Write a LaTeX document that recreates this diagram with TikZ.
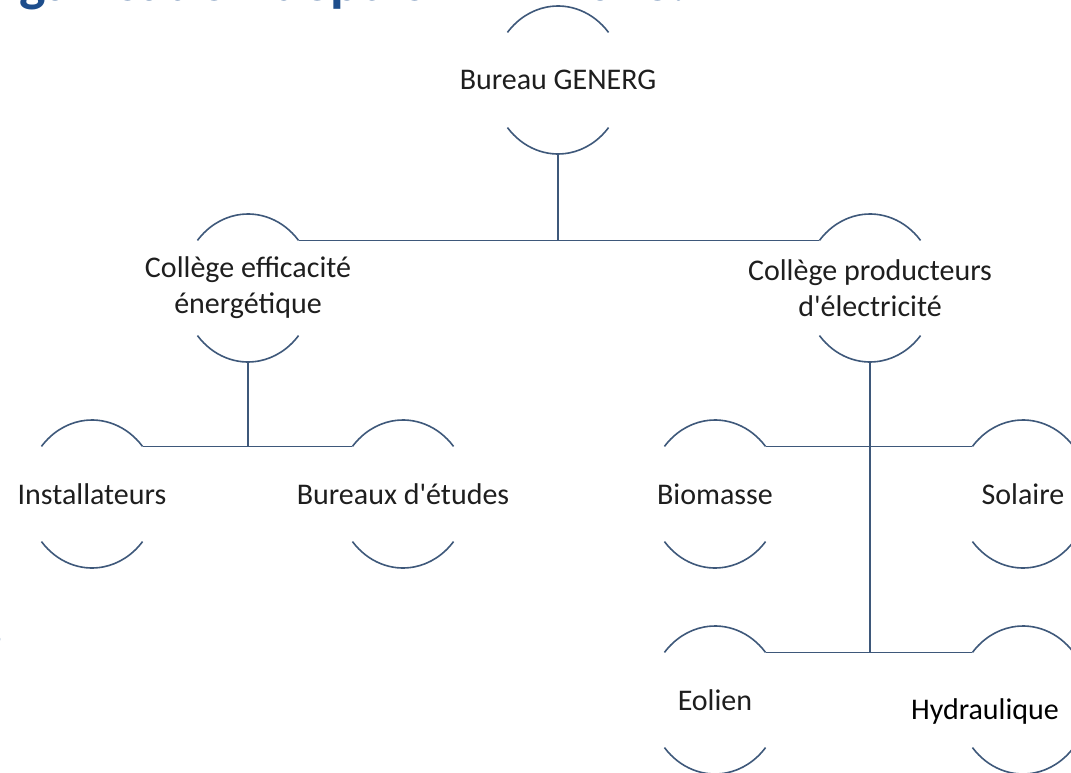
\documentclass[tikz,border=0pt]{standalone}
\usepackage{fontspec}
\newfontfamily\orgfont{Carlito}
\usetikzlibrary{calc}
\definecolor{orgLine}{RGB}{62,88,122}
\definecolor{orgText}{RGB}{30,30,30}
\definecolor{orgTitle}{RGB}{30,78,140}

\begin{document}
\begin{tikzpicture}[x=1pt, y=1pt,
    unit/.style={inner sep=0pt, minimum size=0pt},
    every label/.style={font=\orgfont\fontsize{30}{36}\selectfont, text=orgText, align=center, inner sep=0pt},
    link/.style={orgLine, line width=1.6pt}]

% Frame
\useasboundingbox (0,0) rectangle (1071,-773);

% Slide title and left text, cut by the edges
\begin{scope}
\clip (0,0) rectangle (1071,-773);
\node (title) at (687,-0.5) [anchor=base east, inner sep=0pt, orgTitle, font=\orgfont\bfseries\fontsize{56}{60}\selectfont] {Organisation depuis Avril 2023.};
\node (cut) at (2,-645) [anchor=base east, inner sep=0pt, orgTitle, font=\orgfont\bfseries\fontsize{38}{40}\selectfont] {s};
\end{scope}

% Units
\node [unit, label=center:Bureau GENERG] (bureau) at (558,-80) {};
\node [unit, label={center:Collège efficacité\\énergétique}] (eff) at (248,-288) {};
\node [unit, label={center:Collège producteurs\\d'électricité}] (prod) at (870,-288) {};
\node [unit, label=center:Installateurs] (inst) at (92,-494) {};
\node [unit, label=center:Bureaux d'études] (etud) at (403,-494) {};
\node [unit, label=center:Biomasse] (bio) at (715,-494) {};
\node [unit, label=center:Solaire] (sol) at (1023,-494) {};
\node [unit, label=center:Eolien] (eol) at (715,-700) {};
\node [unit, label={[text=black, xshift=-38pt, yshift=-11pt]center:Hydraulique}] (hyd) at (1023,-700) {};

% Top and bottom arcs
\foreach \n in {bureau,eff,prod,inst,etud,bio,sol,eol,hyd} {
    \draw [link] ($(\n)+(40:66 and 74)$) arc [start angle=40, end angle=140, x radius=66pt, y radius=74pt];
    \draw [link] ($(\n)+(220:66 and 74)$) arc [start angle=220, end angle=320, x radius=66pt, y radius=74pt];
}

% Bureau to colleges
\draw [link] ($(bureau)+(0,-74)$) -- ($(bureau |- eff)+(0,47.6)$);
\draw [link] ($(eff)+(40:66 and 74)$) -- ($(prod)+(140:66 and 74)$);

% Efficacite branch
\draw [link] ($(eff)+(0,-74)$) -- ($(eff |- inst)+(0,47.6)$);
\draw [link] ($(inst)+(40:66 and 74)$) -- ($(etud)+(140:66 and 74)$);

% Producteurs branch
\draw [link, line width=2pt] ($(prod)+(0,-74)$) -- ($(prod |- eol)+(0,47.6)$);
\draw [link] ($(bio)+(40:66 and 74)$) -- ($(sol)+(140:66 and 74)$);
\draw [link] ($(eol)+(40:66 and 74)$) -- ($(hyd)+(140:66 and 74)$);

\end{tikzpicture}
\end{document}
